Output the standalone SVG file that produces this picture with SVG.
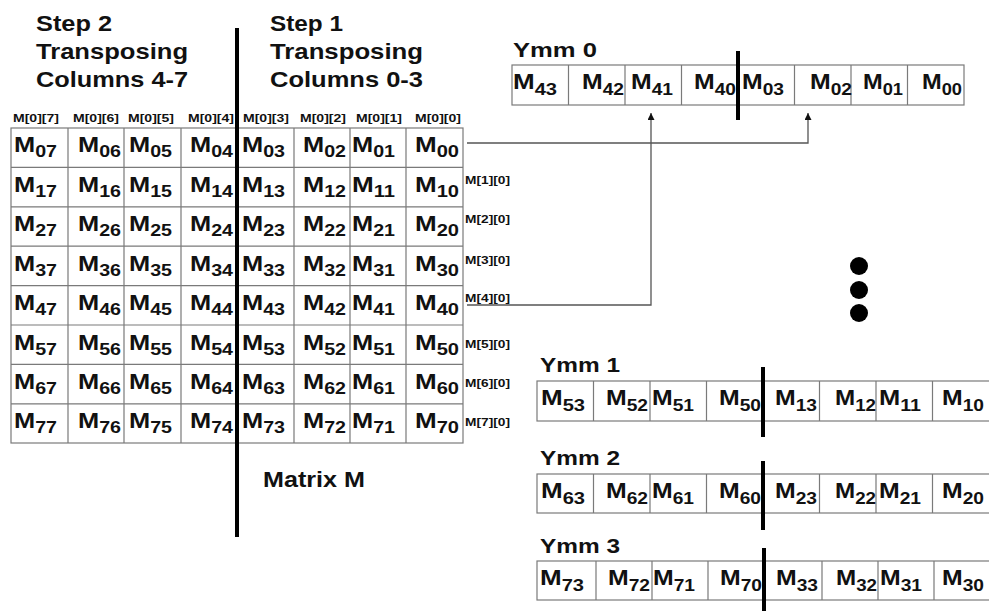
<svg xmlns="http://www.w3.org/2000/svg" width="989" height="611" viewBox="0 0 989 611">
<defs>
<style>
text{font-family:"Liberation Sans",Arial,Helvetica,sans-serif;font-weight:bold;fill:#111}
.h{font-size:22px}
.c{font-size:22px}
.s{font-size:17px}
.lb{font-size:10px}
.y{font-size:20px}
.grid{fill:none;stroke:#7a7a7a;stroke-width:1.2}
.thick{stroke:#000;stroke-width:4}
.conn{fill:none;stroke:#555;stroke-width:1.3}
</style>
<marker id="arr" viewBox="0 0 10 10" refX="10" refY="5" markerWidth="7" markerHeight="7" orient="auto" markerUnits="userSpaceOnUse">
<path d="M0,0 L10,5 L0,10 z" fill="#111"/>
</marker>
</defs>
<rect width="989" height="611" fill="#fff"/>

<g id="header-step2">
<text class="h" x="36" y="31" textLength="76" lengthAdjust="spacingAndGlyphs">Step 2</text>
<text class="h" x="36" y="59" textLength="152" lengthAdjust="spacingAndGlyphs">Transposing</text>
<text class="h" x="36" y="87" textLength="152" lengthAdjust="spacingAndGlyphs">Columns 4-7</text>
</g>
<g id="header-step1">
<text class="h" x="270" y="31" textLength="73" lengthAdjust="spacingAndGlyphs">Step 1</text>
<text class="h" x="270" y="59" textLength="153" lengthAdjust="spacingAndGlyphs">Transposing</text>
<text class="h" x="270" y="87" textLength="153" lengthAdjust="spacingAndGlyphs">Columns 0-3</text>
</g>

<g id="matrix-M">
<rect class="grid" x="11" y="128" width="452" height="315"/>
<path class="grid" d="M68,128V443M124,128V443M181,128V443M237,128V443M294,128V443M350,128V443M406,128V443M11,167.4H463M11,206.8H463M11,246.2H463M11,285.6H463M11,325H463M11,364.4H463M11,403.8H463"/>
<g id="col-labels">
<text class="lb" x="13" y="122" textLength="46" lengthAdjust="spacingAndGlyphs">M[0][7]</text>
<text class="lb" x="73" y="122" textLength="46" lengthAdjust="spacingAndGlyphs">M[0][6]</text>
<text class="lb" x="128" y="122" textLength="46" lengthAdjust="spacingAndGlyphs">M[0][5]</text>
<text class="lb" x="188" y="122" textLength="46" lengthAdjust="spacingAndGlyphs">M[0][4]</text>
<text class="lb" x="243" y="122" textLength="46" lengthAdjust="spacingAndGlyphs">M[0][3]</text>
<text class="lb" x="300" y="122" textLength="46" lengthAdjust="spacingAndGlyphs">M[0][2]</text>
<text class="lb" x="356" y="122" textLength="46" lengthAdjust="spacingAndGlyphs">M[0][1]</text>
<text class="lb" x="415" y="122" textLength="46" lengthAdjust="spacingAndGlyphs">M[0][0]</text>
</g>
<g id="row-labels">
<text class="lb" x="465" y="184" textLength="45" lengthAdjust="spacingAndGlyphs">M[1][0]</text>
<text class="lb" x="465" y="223" textLength="45" lengthAdjust="spacingAndGlyphs">M[2][0]</text>
<text class="lb" x="465" y="264" textLength="45" lengthAdjust="spacingAndGlyphs">M[3][0]</text>
<text class="lb" x="465" y="302" textLength="45" lengthAdjust="spacingAndGlyphs">M[4][0]</text>
<text class="lb" x="465" y="348" textLength="45" lengthAdjust="spacingAndGlyphs">M[5][0]</text>
<text class="lb" x="465" y="387" textLength="45" lengthAdjust="spacingAndGlyphs">M[6][0]</text>
<text class="lb" x="465" y="426" textLength="45" lengthAdjust="spacingAndGlyphs">M[7][0]</text>
</g>
<g id="cells">
<text class="c" x="14" y="152" textLength="43" lengthAdjust="spacingAndGlyphs">M<tspan class="s" dy="5">07</tspan></text>
<text class="c" x="78" y="152" textLength="43" lengthAdjust="spacingAndGlyphs">M<tspan class="s" dy="5">06</tspan></text>
<text class="c" x="129" y="152" textLength="43" lengthAdjust="spacingAndGlyphs">M<tspan class="s" dy="5">05</tspan></text>
<text class="c" x="190" y="152" textLength="43" lengthAdjust="spacingAndGlyphs">M<tspan class="s" dy="5">04</tspan></text>
<text class="c" x="242" y="152" textLength="43" lengthAdjust="spacingAndGlyphs">M<tspan class="s" dy="5">03</tspan></text>
<text class="c" x="303" y="152" textLength="43" lengthAdjust="spacingAndGlyphs">M<tspan class="s" dy="5">02</tspan></text>
<text class="c" x="352" y="152" textLength="43" lengthAdjust="spacingAndGlyphs">M<tspan class="s" dy="5">01</tspan></text>
<text class="c" x="415" y="152" textLength="44" lengthAdjust="spacingAndGlyphs">M<tspan class="s" dy="5">00</tspan></text>

<text class="c" x="14" y="192" textLength="43" lengthAdjust="spacingAndGlyphs">M<tspan class="s" dy="5">17</tspan></text>
<text class="c" x="78" y="192" textLength="43" lengthAdjust="spacingAndGlyphs">M<tspan class="s" dy="5">16</tspan></text>
<text class="c" x="129" y="192" textLength="43" lengthAdjust="spacingAndGlyphs">M<tspan class="s" dy="5">15</tspan></text>
<text class="c" x="190" y="192" textLength="43" lengthAdjust="spacingAndGlyphs">M<tspan class="s" dy="5">14</tspan></text>
<text class="c" x="242" y="192" textLength="43" lengthAdjust="spacingAndGlyphs">M<tspan class="s" dy="5">13</tspan></text>
<text class="c" x="303" y="192" textLength="43" lengthAdjust="spacingAndGlyphs">M<tspan class="s" dy="5">12</tspan></text>
<text class="c" x="352" y="192" textLength="43" lengthAdjust="spacingAndGlyphs">M<tspan class="s" dy="5">11</tspan></text>
<text class="c" x="415" y="192" textLength="44" lengthAdjust="spacingAndGlyphs">M<tspan class="s" dy="5">10</tspan></text>

<text class="c" x="14" y="231" textLength="43" lengthAdjust="spacingAndGlyphs">M<tspan class="s" dy="5">27</tspan></text>
<text class="c" x="78" y="231" textLength="43" lengthAdjust="spacingAndGlyphs">M<tspan class="s" dy="5">26</tspan></text>
<text class="c" x="129" y="231" textLength="43" lengthAdjust="spacingAndGlyphs">M<tspan class="s" dy="5">25</tspan></text>
<text class="c" x="190" y="231" textLength="43" lengthAdjust="spacingAndGlyphs">M<tspan class="s" dy="5">24</tspan></text>
<text class="c" x="242" y="231" textLength="43" lengthAdjust="spacingAndGlyphs">M<tspan class="s" dy="5">23</tspan></text>
<text class="c" x="303" y="231" textLength="43" lengthAdjust="spacingAndGlyphs">M<tspan class="s" dy="5">22</tspan></text>
<text class="c" x="352" y="231" textLength="43" lengthAdjust="spacingAndGlyphs">M<tspan class="s" dy="5">21</tspan></text>
<text class="c" x="415" y="231" textLength="44" lengthAdjust="spacingAndGlyphs">M<tspan class="s" dy="5">20</tspan></text>

<text class="c" x="14" y="271" textLength="43" lengthAdjust="spacingAndGlyphs">M<tspan class="s" dy="5">37</tspan></text>
<text class="c" x="78" y="271" textLength="43" lengthAdjust="spacingAndGlyphs">M<tspan class="s" dy="5">36</tspan></text>
<text class="c" x="129" y="271" textLength="43" lengthAdjust="spacingAndGlyphs">M<tspan class="s" dy="5">35</tspan></text>
<text class="c" x="190" y="271" textLength="43" lengthAdjust="spacingAndGlyphs">M<tspan class="s" dy="5">34</tspan></text>
<text class="c" x="242" y="271" textLength="43" lengthAdjust="spacingAndGlyphs">M<tspan class="s" dy="5">33</tspan></text>
<text class="c" x="303" y="271" textLength="43" lengthAdjust="spacingAndGlyphs">M<tspan class="s" dy="5">32</tspan></text>
<text class="c" x="352" y="271" textLength="43" lengthAdjust="spacingAndGlyphs">M<tspan class="s" dy="5">31</tspan></text>
<text class="c" x="415" y="271" textLength="44" lengthAdjust="spacingAndGlyphs">M<tspan class="s" dy="5">30</tspan></text>

<text class="c" x="14" y="310" textLength="43" lengthAdjust="spacingAndGlyphs">M<tspan class="s" dy="5">47</tspan></text>
<text class="c" x="78" y="310" textLength="43" lengthAdjust="spacingAndGlyphs">M<tspan class="s" dy="5">46</tspan></text>
<text class="c" x="129" y="310" textLength="43" lengthAdjust="spacingAndGlyphs">M<tspan class="s" dy="5">45</tspan></text>
<text class="c" x="190" y="310" textLength="43" lengthAdjust="spacingAndGlyphs">M<tspan class="s" dy="5">44</tspan></text>
<text class="c" x="242" y="310" textLength="43" lengthAdjust="spacingAndGlyphs">M<tspan class="s" dy="5">43</tspan></text>
<text class="c" x="303" y="310" textLength="43" lengthAdjust="spacingAndGlyphs">M<tspan class="s" dy="5">42</tspan></text>
<text class="c" x="352" y="310" textLength="43" lengthAdjust="spacingAndGlyphs">M<tspan class="s" dy="5">41</tspan></text>
<text class="c" x="415" y="310" textLength="44" lengthAdjust="spacingAndGlyphs">M<tspan class="s" dy="5">40</tspan></text>

<text class="c" x="14" y="350" textLength="43" lengthAdjust="spacingAndGlyphs">M<tspan class="s" dy="5">57</tspan></text>
<text class="c" x="78" y="350" textLength="43" lengthAdjust="spacingAndGlyphs">M<tspan class="s" dy="5">56</tspan></text>
<text class="c" x="129" y="350" textLength="43" lengthAdjust="spacingAndGlyphs">M<tspan class="s" dy="5">55</tspan></text>
<text class="c" x="190" y="350" textLength="43" lengthAdjust="spacingAndGlyphs">M<tspan class="s" dy="5">54</tspan></text>
<text class="c" x="242" y="350" textLength="43" lengthAdjust="spacingAndGlyphs">M<tspan class="s" dy="5">53</tspan></text>
<text class="c" x="303" y="350" textLength="43" lengthAdjust="spacingAndGlyphs">M<tspan class="s" dy="5">52</tspan></text>
<text class="c" x="352" y="350" textLength="43" lengthAdjust="spacingAndGlyphs">M<tspan class="s" dy="5">51</tspan></text>
<text class="c" x="415" y="350" textLength="44" lengthAdjust="spacingAndGlyphs">M<tspan class="s" dy="5">50</tspan></text>

<text class="c" x="14" y="389" textLength="43" lengthAdjust="spacingAndGlyphs">M<tspan class="s" dy="5">67</tspan></text>
<text class="c" x="78" y="389" textLength="43" lengthAdjust="spacingAndGlyphs">M<tspan class="s" dy="5">66</tspan></text>
<text class="c" x="129" y="389" textLength="43" lengthAdjust="spacingAndGlyphs">M<tspan class="s" dy="5">65</tspan></text>
<text class="c" x="190" y="389" textLength="43" lengthAdjust="spacingAndGlyphs">M<tspan class="s" dy="5">64</tspan></text>
<text class="c" x="242" y="389" textLength="43" lengthAdjust="spacingAndGlyphs">M<tspan class="s" dy="5">63</tspan></text>
<text class="c" x="303" y="389" textLength="43" lengthAdjust="spacingAndGlyphs">M<tspan class="s" dy="5">62</tspan></text>
<text class="c" x="352" y="389" textLength="43" lengthAdjust="spacingAndGlyphs">M<tspan class="s" dy="5">61</tspan></text>
<text class="c" x="415" y="389" textLength="44" lengthAdjust="spacingAndGlyphs">M<tspan class="s" dy="5">60</tspan></text>

<text class="c" x="14" y="428" textLength="43" lengthAdjust="spacingAndGlyphs">M<tspan class="s" dy="5">77</tspan></text>
<text class="c" x="78" y="428" textLength="43" lengthAdjust="spacingAndGlyphs">M<tspan class="s" dy="5">76</tspan></text>
<text class="c" x="129" y="428" textLength="43" lengthAdjust="spacingAndGlyphs">M<tspan class="s" dy="5">75</tspan></text>
<text class="c" x="190" y="428" textLength="43" lengthAdjust="spacingAndGlyphs">M<tspan class="s" dy="5">74</tspan></text>
<text class="c" x="242" y="428" textLength="43" lengthAdjust="spacingAndGlyphs">M<tspan class="s" dy="5">73</tspan></text>
<text class="c" x="303" y="428" textLength="43" lengthAdjust="spacingAndGlyphs">M<tspan class="s" dy="5">72</tspan></text>
<text class="c" x="352" y="428" textLength="43" lengthAdjust="spacingAndGlyphs">M<tspan class="s" dy="5">71</tspan></text>
<text class="c" x="415" y="428" textLength="44" lengthAdjust="spacingAndGlyphs">M<tspan class="s" dy="5">70</tspan></text>
</g>
<line class="thick" x1="237" y1="28" x2="237" y2="537"/>
<text class="h" x="263" y="487" textLength="102" lengthAdjust="spacingAndGlyphs">Matrix M</text>
</g>

<g id="ymm0">
<text class="y" x="513" y="57" textLength="84" lengthAdjust="spacingAndGlyphs">Ymm 0</text>
<rect class="grid" x="512" y="65" width="452" height="40"/>
<path class="grid" d="M568.5,65V105M625,65V105M681.5,65V105M794.5,65V105M851,65V105M907.5,65V105"/>
<text class="c" x="513" y="89" textLength="44" lengthAdjust="spacingAndGlyphs">M<tspan class="s" dy="6">43</tspan></text>
<text class="c" x="582" y="89" textLength="42" lengthAdjust="spacingAndGlyphs">M<tspan class="s" dy="6">42</tspan></text>
<text class="c" x="631" y="89" textLength="42" lengthAdjust="spacingAndGlyphs">M<tspan class="s" dy="6">41</tspan></text>
<text class="c" x="694" y="89" textLength="42" lengthAdjust="spacingAndGlyphs">M<tspan class="s" dy="6">40</tspan></text>
<text class="c" x="742" y="89" textLength="42" lengthAdjust="spacingAndGlyphs">M<tspan class="s" dy="6">03</tspan></text>
<text class="c" x="810" y="89" textLength="42" lengthAdjust="spacingAndGlyphs">M<tspan class="s" dy="6">02</tspan></text>
<text class="c" x="863" y="89" textLength="40" lengthAdjust="spacingAndGlyphs">M<tspan class="s" dy="6">01</tspan></text>
<text class="c" x="922" y="89" textLength="40" lengthAdjust="spacingAndGlyphs">M<tspan class="s" dy="6">00</tspan></text>
<line class="thick" x1="738" y1="51" x2="738" y2="120"/>
</g>

<g id="ymm1">
<text class="y" x="540" y="372" textLength="80" lengthAdjust="spacingAndGlyphs">Ymm 1</text>
<rect class="grid" x="537" y="381" width="460" height="40"/>
<path class="grid" d="M593.5,381V421M650,381V421M706.5,381V421M819.5,381V421M876,381V421M932.5,381V421"/>
<text class="c" x="541" y="405" textLength="44" lengthAdjust="spacingAndGlyphs">M<tspan class="s" dy="6">53</tspan></text>
<text class="c" x="606" y="405" textLength="42" lengthAdjust="spacingAndGlyphs">M<tspan class="s" dy="6">52</tspan></text>
<text class="c" x="652" y="405" textLength="42" lengthAdjust="spacingAndGlyphs">M<tspan class="s" dy="6">51</tspan></text>
<text class="c" x="719" y="405" textLength="42" lengthAdjust="spacingAndGlyphs">M<tspan class="s" dy="6">50</tspan></text>
<text class="c" x="775" y="405" textLength="42" lengthAdjust="spacingAndGlyphs">M<tspan class="s" dy="6">13</tspan></text>
<text class="c" x="835" y="405" textLength="41" lengthAdjust="spacingAndGlyphs">M<tspan class="s" dy="6">12</tspan></text>
<text class="c" x="879" y="405" textLength="42" lengthAdjust="spacingAndGlyphs">M<tspan class="s" dy="6">11</tspan></text>
<text class="c" x="942" y="405" textLength="42" lengthAdjust="spacingAndGlyphs">M<tspan class="s" dy="6">10</tspan></text>
<line class="thick" x1="763" y1="367" x2="763" y2="437"/>
</g>

<g id="ymm2">
<text class="y" x="540" y="465" textLength="80" lengthAdjust="spacingAndGlyphs">Ymm 2</text>
<rect class="grid" x="537" y="474" width="460" height="39"/>
<path class="grid" d="M593.5,474V513M650,474V513M706.5,474V513M819.5,474V513M876,474V513M932.5,474V513"/>
<text class="c" x="541" y="498" textLength="44" lengthAdjust="spacingAndGlyphs">M<tspan class="s" dy="6">63</tspan></text>
<text class="c" x="606" y="498" textLength="42" lengthAdjust="spacingAndGlyphs">M<tspan class="s" dy="6">62</tspan></text>
<text class="c" x="652" y="498" textLength="42" lengthAdjust="spacingAndGlyphs">M<tspan class="s" dy="6">61</tspan></text>
<text class="c" x="719" y="498" textLength="42" lengthAdjust="spacingAndGlyphs">M<tspan class="s" dy="6">60</tspan></text>
<text class="c" x="775" y="498" textLength="42" lengthAdjust="spacingAndGlyphs">M<tspan class="s" dy="6">23</tspan></text>
<text class="c" x="835" y="498" textLength="41" lengthAdjust="spacingAndGlyphs">M<tspan class="s" dy="6">22</tspan></text>
<text class="c" x="879" y="498" textLength="42" lengthAdjust="spacingAndGlyphs">M<tspan class="s" dy="6">21</tspan></text>
<text class="c" x="942" y="498" textLength="42" lengthAdjust="spacingAndGlyphs">M<tspan class="s" dy="6">20</tspan></text>
<line class="thick" x1="763" y1="461" x2="763" y2="530"/>
</g>

<g id="ymm3">
<text class="y" x="540" y="553" textLength="80" lengthAdjust="spacingAndGlyphs">Ymm 3</text>
<rect class="grid" x="537" y="561" width="460" height="39"/>
<path class="grid" d="M596,561V600M652,561V600M708,561V600M822,561V600M878,561V600M934,561V600"/>
<text class="c" x="540" y="585" textLength="44" lengthAdjust="spacingAndGlyphs">M<tspan class="s" dy="6">73</tspan></text>
<text class="c" x="608" y="585" textLength="42" lengthAdjust="spacingAndGlyphs">M<tspan class="s" dy="6">72</tspan></text>
<text class="c" x="653" y="585" textLength="42" lengthAdjust="spacingAndGlyphs">M<tspan class="s" dy="6">71</tspan></text>
<text class="c" x="720" y="585" textLength="42" lengthAdjust="spacingAndGlyphs">M<tspan class="s" dy="6">70</tspan></text>
<text class="c" x="776" y="585" textLength="42" lengthAdjust="spacingAndGlyphs">M<tspan class="s" dy="6">33</tspan></text>
<text class="c" x="836" y="585" textLength="41" lengthAdjust="spacingAndGlyphs">M<tspan class="s" dy="6">32</tspan></text>
<text class="c" x="880" y="585" textLength="42" lengthAdjust="spacingAndGlyphs">M<tspan class="s" dy="6">31</tspan></text>
<text class="c" x="942" y="585" textLength="42" lengthAdjust="spacingAndGlyphs">M<tspan class="s" dy="6">30</tspan></text>
<line class="thick" x1="764" y1="548" x2="764" y2="611"/>
</g>

<g id="ellipsis">
<circle cx="859" cy="266" r="9" fill="#000"/>
<circle cx="859" cy="290" r="9" fill="#000"/>
<circle cx="859" cy="313" r="9" fill="#000"/>
</g>

<g id="connectors">
<path class="conn" d="M467,143H808V113" marker-end="url(#arr)"/>
<path class="conn" d="M467,305H651V113" marker-end="url(#arr)"/>
</g>
</svg>
